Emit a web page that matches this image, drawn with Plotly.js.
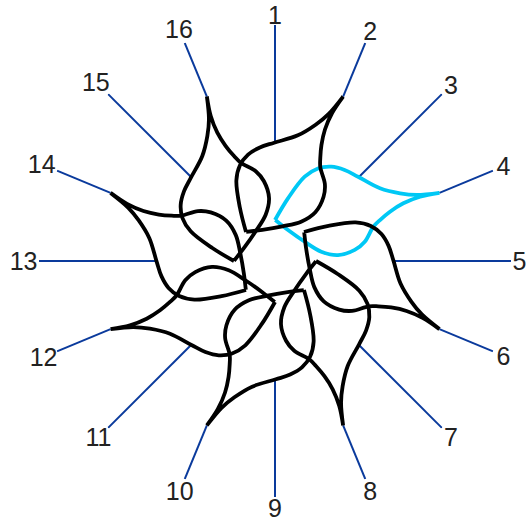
<!DOCTYPE html>
<html>
<head>
<meta charset="utf-8">
<script src="https://cdn.plot.ly/plotly-3.0.1.min.js"></script>
<style>html,body{margin:0;padding:0;background:#fff;}#chart{width:527px;height:523px;}</style>
</head>
<body>
<div id="chart"></div>
<script>
// Spoke labels (16 directions, clockwise from top)
var spokeLabels = ['1','2','3','4','5','6','7','8','9','10','11','12','13','14','15','16'];
var spokeAngles = [0,22.5,45,67.5,90,112.5,135,157.5,180,202.5,225,247.5,270,292.5,315,337.5];
// radius (px units) where each spoke starts and ends
var spokeInner = [118,178,118,178,118,178,118,178,118,178,118,178,118,178,118,178];
var spokeOuter = 236;

// Petal template (petal pointing at spoke 4, tip at 67.5 deg); theta in deg, r in px units
var petalTheta = [0, 11.7, 19.4, 24.9, 30.8, 37.4, 44.6, 55.3, 61.6, 65.0, 67.5, 67.5,
                  66.1, 65.8, 66.8, 68.7, 70.8, 77.9, 82.1, 84.6, 78.6, 57.0, 22.8, 0.4];
var petalR     = [41, 64, 89.4, 102, 109.8, 114.6, 118.3, 127.7, 142.2, 156.3, 178, 178,
                  158.6, 140.7, 125.1, 112.7, 104.1, 91.8, 80.5, 63.3, 47.2, 35.4, 33.6, 41];
// Petal tip directions, in drawing order, and colours
var petalTips   = [67.5, 22.5, 112.5, 157.5, 202.5, 247.5, 292.5, 337.5];
var petalColors = ['#00c8f5','#000000','#000000','#000000','#000000','#000000','#000000','#000000'];

var FONT = 25;
var W = 527, H = 523, CX = 275, CY = 261, LABEL_R = 252;
var traces = [];
// spokes
var sr = [], st = [];
for (var i = 0; i < spokeAngles.length; i++) {
  sr.push(spokeInner[i], spokeOuter, null);
  st.push(spokeAngles[i], spokeAngles[i], null);
}
traces.push({type:'scatterpolar', mode:'lines', r: sr, theta: st,
  line:{color:'#0a3a9c', width:2}, hoverinfo:'skip', showlegend:false});

for (var k = 0; k < petalTips.length; k++) {
  var off = petalTips[k] - 67.5;
  traces.push({type:'scatterpolar', mode:'lines', r: petalR.slice(),
    theta: petalTheta.map(function(t){return t + off;}),
    line:{color: petalColors[k], width:3.8, shape:'spline', smoothing:1},
    hoverinfo:'skip', showlegend:false});
}

// spoke labels placed just beyond the spoke ends (on a concentric, larger polar subplot)
var lr = [], lt = [];
for (var j = 0; j < spokeAngles.length; j++) {
  var a = spokeAngles[j] * Math.PI / 180;
  var sx = Math.sin(a), cy = Math.cos(a);
  var halfW = 0.278 * FONT * spokeLabels[j].length, halfH = 0.36 * FONT;
  var t = spokeOuter + 1.5 + halfW * Math.abs(sx) + halfH * Math.abs(cy);
  var x = t * sx, y = t * cy - 0.11 * FONT;   // compensate text baseline offset
  lr.push(Math.min(Math.sqrt(x * x + y * y), LABEL_R - 0.5));
  lt.push(Math.atan2(x, y) * 180 / Math.PI);
}
traces.push({type:'scatterpolar', subplot:'polar2', mode:'text', r: lr, theta: lt, text: spokeLabels,
  textposition:'middle center', cliponaxis:false,
  textfont:{family:'Liberation Sans, Arial, sans-serif', size:FONT, color:'#222222'},
  hoverinfo:'skip', showlegend:false});

function dom(R) {
  return {x:[(CX - R) / W, (CX + R) / W], y:[(H - CY - R) / H, (H - CY + R) / H]};
}
var hiddenAngular = {rotation:90, direction:'clockwise', showticklabels:false, showgrid:false, showline:false, ticks:''};
var layout = {
  width:W, height:H,
  margin:{l:0, r:0, t:0, b:0},
  paper_bgcolor:'#ffffff',
  showlegend:false,
  polar:{
    domain: dom(spokeOuter),
    bgcolor:'rgba(0,0,0,0)',
    radialaxis:{range:[0, spokeOuter], visible:false, showgrid:false},
    angularaxis: hiddenAngular
  },
  polar2:{
    domain: dom(LABEL_R),
    bgcolor:'rgba(0,0,0,0)',
    radialaxis:{range:[0, LABEL_R], visible:false, showgrid:false},
    angularaxis: hiddenAngular
  }
};
Plotly.newPlot('chart', traces, layout, {displayModeBar:false, staticPlot:true});
</script>
</body>
</html>
